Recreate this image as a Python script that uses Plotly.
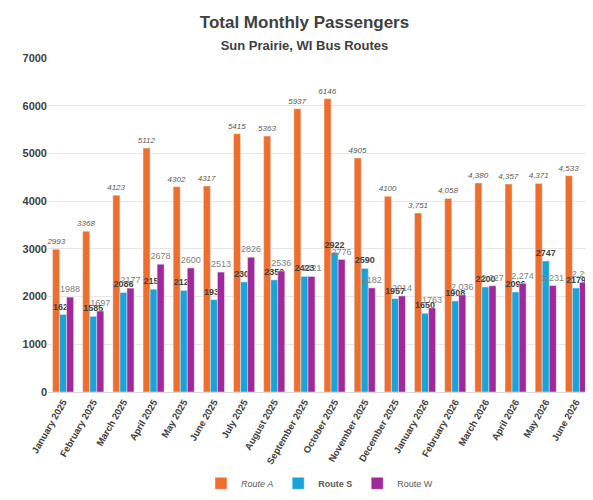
import plotly.graph_objects as go

months = ["January 2025","February 2025","March 2025","April 2025","May 2025","June 2025",
          "July 2025","August 2025","September 2025","October 2025","November 2025","December 2025",
          "January 2026","February 2026","March 2026","April 2026","May 2026","June 2026"]
route_a = [2993,3368,4123,5112,4302,4317,5415,5363,5937,6146,4905,4100,3751,4058,4380,4357,4371,4533]
route_s = [1624,1585,2086,2154,2129,1935,2307,2350,2423,2922,2590,1957,1650,1908,2200,2096,2747,2179]
route_w = [1988,1697,2177,2678,2600,2513,2826,2536,2421,2776,2182,2014,1763,2036,2227,2274,2231,2298]
a_labels = ["2993","3368","4123","5112","4302","4317","5415","5363","5937","6146","4905","4100",
            "3,751","4,058","4,380","4,357","4,371","4,533"]
w_labels = ["1988","1697","2177","2678","2600","2513","2826","2536","2421","2776","2182","2014",
            "1763","2,036","2,227","2,274","2,231","2,298"]

fig = go.Figure()
fig.add_bar(x=months, y=route_a, name="<i>Route A</i>", marker_color="#EE6F2D",
            text=a_labels, textposition="outside", cliponaxis=False, constraintext="none",
            textfont=dict(size=8, color="#595959", family="Liberation Sans"),
            texttemplate="<i>%{text}</i>")
fig.add_bar(x=months, y=route_s, name="<b>Route S</b>", marker_color="#1AA3D9",
            text=route_s, textposition="outside", cliponaxis=False, constraintext="none",
            textfont=dict(size=9, color="#404040", family="Liberation Sans"),
            texttemplate="<b>%{text}</b>")
fig.add_bar(x=months, y=route_w, name="Route W", marker_color="#A0289A",
            text=w_labels, textposition="outside", cliponaxis=False, constraintext="none",
            textfont=dict(size=9, color="#7F7F7F", family="Liberation Sans"))
fig.update_layout(
    width=593, height=500, barmode="group", bargap=0.3, bargroupgap=0.0,
    plot_bgcolor="white", paper_bgcolor="white",
    font=dict(family="Liberation Sans", color="#595959"),
    title=dict(text="<b>Total Monthly Passengers</b><br><span style='font-size:13px'><b>Sun Prairie, WI Bus Routes</b></span>",
               x=0.5, xanchor="center", y=0.96, yanchor="top", font=dict(size=17, color="#404040")),
    margin=dict(l=40, r=10, t=50, b=88),
    legend=dict(orientation="h", x=0.5, xanchor="center", y=-0.23, yanchor="top", font=dict(size=9)),
)
fig.update_yaxes(range=[0,7000], dtick=1000, gridcolor="#E6E6E6", zeroline=False,
                 tickfont=dict(size=11, color="#404040"), tickprefix="<b>", ticksuffix="</b>")
fig.update_xaxes(tickangle=-60, tickfont=dict(size=9.5, color="#404040"), linecolor="#D9D9D9",
                 tickprefix="<b>", ticksuffix="</b>", automargin=False)
fig.write_html("out.html")
